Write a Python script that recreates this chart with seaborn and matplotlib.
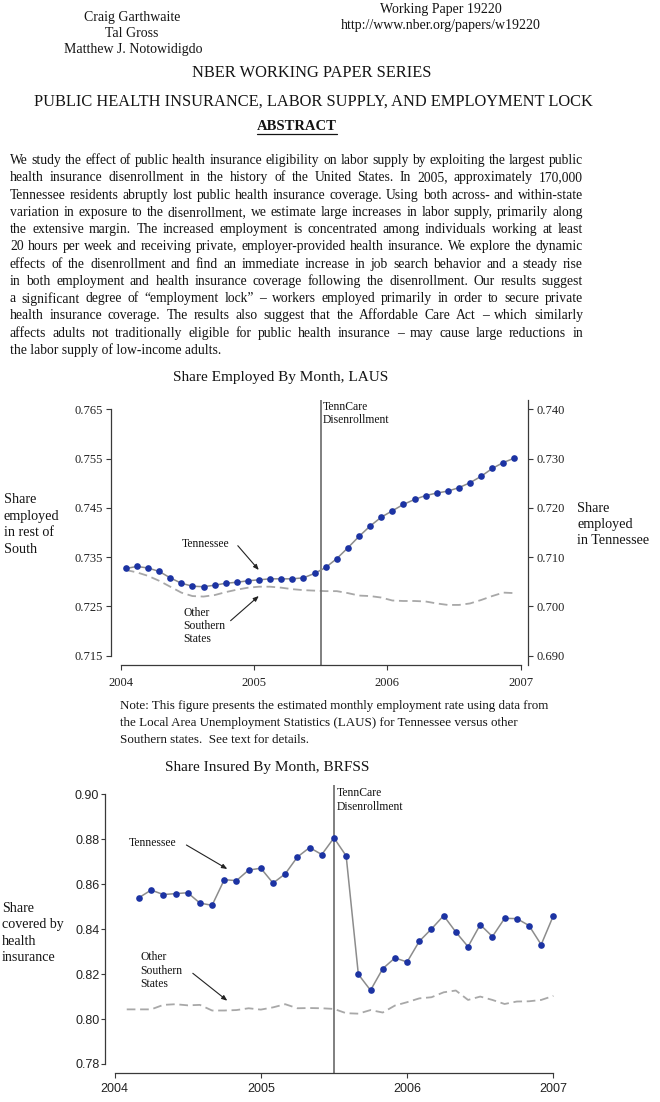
import numpy as np
import pandas as pd
import matplotlib
matplotlib.use("Agg")
import matplotlib.pyplot as plt
import seaborn as sns
from matplotlib.font_manager import FontProperties
from matplotlib.lines import Line2D

# ---------------- data ----------------
laus_month = list(range(36))  # Jan 2004 .. Dec 2006
laus_tennessee = [0.7077, 0.7081, 0.7078, 0.7071, 0.7058, 0.7047, 0.7041, 0.7040, 0.7043, 0.7047, 0.7049, 0.7052,
                  0.7054, 0.7056, 0.7056, 0.7056, 0.7058, 0.7067, 0.7079, 0.7097, 0.7119, 0.7142, 0.7163, 0.7181,
                  0.7194, 0.7207, 0.7217, 0.7225, 0.7230, 0.7234, 0.7241, 0.7251, 0.7264, 0.7280, 0.7292, 0.7301]
laus_south = [0.7324, 0.7319, 0.7312, 0.7302, 0.7290, 0.7278, 0.7271, 0.7270, 0.7273, 0.7279, 0.7284, 0.7288,
              0.7290, 0.7290, 0.7288, 0.7285, 0.7283, 0.7282, 0.7281, 0.7281, 0.7277, 0.7272, 0.7271, 0.7268,
              0.7262, 0.7261, 0.7261, 0.7260, 0.7256, 0.7253, 0.7253, 0.7256, 0.7263, 0.7271, 0.7278, 0.7277]

brfss_tn_month = list(range(2, 37))
brfss_tennessee = [0.8540, 0.8574, 0.8554, 0.8558, 0.8562, 0.8516, 0.8506, 0.8620, 0.8616, 0.8663, 0.8671,
                   0.8605, 0.8646, 0.8721, 0.8763, 0.8732, 0.8806, 0.8726, 0.8199, 0.8128, 0.8224, 0.8272,
                   0.8254, 0.8346, 0.8401, 0.8460, 0.8387, 0.8322, 0.8420, 0.8367, 0.8448, 0.8447, 0.8416,
                   0.8331, 0.8460]
brfss_south_month = list(range(1, 37))
brfss_south = [0.8043, 0.8043, 0.8043, 0.8063, 0.8066, 0.8061, 0.8063, 0.8038, 0.8038, 0.8040, 0.8048, 0.8042,
               0.8052, 0.8066, 0.8048, 0.8049, 0.8048, 0.8045, 0.8026, 0.8024, 0.8040, 0.8029, 0.8060, 0.8075,
               0.8092, 0.8097, 0.8119, 0.8127, 0.8085, 0.8100, 0.8085, 0.8067, 0.8078, 0.8079, 0.8085, 0.8103]

laus_left_ticks = [0.715, 0.725, 0.735, 0.745, 0.755, 0.765]
laus_right_ticks = [0.690, 0.700, 0.710, 0.720, 0.730, 0.740]
brfss_ticks = [0.78, 0.80, 0.82, 0.84, 0.86, 0.88, 0.90]
year_ticks = [2004, 2005, 2006, 2007]
disenrollment = 2005.5

abstract_lines = [
    "We study the effect of public health insurance eligibility on labor supply by exploiting the largest public",
    "health insurance disenrollment in the history of the United States. In 2005, approximately 170,000",
    "Tennessee residents abruptly lost public health insurance coverage. Using both across- and within-state",
    "variation in exposure to the disenrollment, we estimate large increases in labor supply, primarily along",
    "the extensive margin. The increased employment is concentrated among individuals working at least",
    "20 hours per week and receiving private, employer-provided health insurance. We explore the dynamic",
    "effects of the disenrollment and find an immediate increase in job search behavior and a steady rise",
    "in both employment and health insurance coverage following the disenrollment. Our results suggest",
    "a significant degree of \u201cemployment lock\u201d \u2013 workers employed primarily in order to secure private",
    "health insurance coverage.  The results also suggest that the Affordable Care Act \u2013 which similarly",
    "affects adults not traditionally eligible for public health insurance \u2013 may cause large reductions in",
    "the labor supply of low-income adults.",
]
note_lines = [
    "Note: This figure presents the estimated monthly employment rate using data from",
    "the Local Area Unemployment Statistics (LAUS) for Tennessee versus other",
    "Southern states.  See text for details.",
]

# ---------------- setup ----------------
W, H = 660, 1102
sns.set_theme(style="white")
plt.rcParams["font.family"] = ["Liberation Serif", "DejaVu Serif"]
SERIF = "Liberation Serif"
SANS = "Liberation Sans"
TXT = "#141414"
AX = "#3a3a3a"
BLUE = "#1c33a3"
LGRAY = "#a8a8a8"
MGRAY = "#8c8c8c"

fig = plt.figure(figsize=(W / 100, H / 100), dpi=100)
fig.patch.set_facecolor("white")
renderer = fig.canvas.get_renderer()


def fx(x):
    return x / W


def fy(y):
    return 1 - y / H


def ptext(x, y, s, size, ha="left", va="center", family=SERIF, color=TXT, **kw):
    return fig.text(fx(x), fy(y), s, fontsize=size, ha=ha, va=va, family=family, color=color, **kw)


def make_axes(left, top, right, bottom):
    return fig.add_axes([left / W, 1 - bottom / H, (right - left) / W, (bottom - top) / H])


def arrow(x1, y1, x2, y2):
    fig.add_artist(matplotlib.patches.FancyArrowPatch(
        (fx(x1), fy(y1)), (fx(x2), fy(y2)), transform=fig.transFigure,
        arrowstyle="-|>,head_length=3.2,head_width=1.3", color="#222222", lw=0.8,
        shrinkA=0, shrinkB=0))


# ---------------- header ----------------
ptext(132, 17.5, "Craig Garthwaite", 10, ha="center")
ptext(132, 33.5, "Tal Gross", 10, ha="center")
ptext(133, 50, "Matthew J. Notowidigdo", 10, ha="center")
ptext(441, 10, "Working Paper 19220", 10, ha="center")
ptext(441, 26, "http://www.nber.org/papers/w19220", 10, ha="center")
ptext(312, 73, "NBER WORKING PAPER SERIES", 11.8, ha="center")
ptext(313, 102, "PUBLIC HEALTH INSURANCE, LABOR SUPPLY, AND EMPLOYMENT LOCK", 11.8, ha="center")
fp_abs = FontProperties(family=SERIF, size=10.5, weight="bold")
t_abs = ptext(297, 126, "ABSTRACT", 10.5, ha="center", fontweight="bold")
aw = renderer.get_text_width_height_descent("ABSTRACT", fp_abs, ismath=False)[0]
fig.add_artist(Line2D([fx(297 - aw / 2), fx(297 + aw / 2)], [fy(133.5), fy(133.5)],
                      transform=fig.transFigure, color=TXT, lw=0.9))

# ---------------- abstract (justified) ----------------
fp_body = FontProperties(family=SERIF, size=9.8)
left_x, right_x = 10, 583
for i, line in enumerate(abstract_lines):
    y = 160.5 + i * 17.27
    if i == len(abstract_lines) - 1:
        ptext(left_x, y, line, 9.8)
        continue
    words = line.split()
    widths = [renderer.get_text_width_height_descent(w, fp_body, ismath=False)[0] for w in words]
    gap = (right_x - left_x - sum(widths)) / (len(words) - 1)
    x = left_x
    for w, wd in zip(words, widths):
        ptext(x, y, w, 9.8)
        x += wd + gap

# ---------------- chart 1: LAUS ----------------
ptext(281, 377, "Share Employed By Month, LAUS", 11, ha="center")
ax1 = make_axes(110.7, 400, 528, 665)
xl1 = (2003.924, 2007.056)
df_south1 = pd.DataFrame({"x": 2004 + (np.array(laus_month) + 0.45) / 12, "y": laus_south})
df_tn1 = pd.DataFrame({"x": 2004 + (np.array(laus_month) + 0.45) / 12, "y": laus_tennessee})
sns.lineplot(data=df_south1, x="x", y="y", ax=ax1, color=LGRAY, lw=1.3)
ax1.lines[-1].set_dashes([4.8, 2.6])
ax1.axvline(disenrollment, color="#6a6a6a", lw=1.2)
ax1.set_xlim(*xl1)
ax1.set_ylim(0.71311, 0.76689)
ax1r = ax1.twinx()
sns.lineplot(data=df_tn1, x="x", y="y", ax=ax1r, color=MGRAY, lw=1.1, marker="o", markersize=4.8,
             markerfacecolor=BLUE, markeredgecolor=BLUE, markeredgewidth=0)
ax1r.set_xlim(*xl1)
ax1r.set_ylim(0.68811, 0.74189)

for a in (ax1, ax1r):
    a.set_xlabel("")
    a.set_ylabel("")
    a.set_facecolor("none")
    for s in a.spines.values():
        s.set_color(AX)
        s.set_linewidth(0.9)
ax1.spines["top"].set_visible(False)
ax1.spines["right"].set_visible(False)
ax1.spines["left"].set_bounds(0.715, 0.765)
ax1.spines["bottom"].set_bounds(2004, 2007)
for s in ("left", "top", "bottom"):
    ax1r.spines[s].set_visible(False)
ax1.set_xticks(year_ticks)
ax1.set_xticklabels([str(v) for v in year_ticks])
ax1.set_yticks(laus_left_ticks)
ax1.set_yticklabels([f"{v:.3f}" for v in laus_left_ticks])
ax1r.set_yticks(laus_right_ticks)
ax1r.set_yticklabels([f"{v:.3f}" for v in laus_right_ticks])
ax1.tick_params(axis="x", bottom=True, direction="out", length=3.6, width=0.8, color=AX,
                labelsize=9, pad=5, labelcolor="#222")
ax1.tick_params(axis="y", left=True, direction="out", length=3.6, width=0.8, color=AX,
                labelsize=9, pad=2, labelcolor="#222")
ax1r.tick_params(axis="y", right=True, direction="out", length=3.6, width=0.8, color=AX,
                 labelsize=9, pad=2.5, labelcolor="#222")
for lab in ax1.get_xticklabels() + ax1.get_yticklabels() + ax1r.get_yticklabels():
    lab.set_family(SERIF)

for j, s in enumerate(["Share", "employed", "in rest of", "South"]):
    ptext(4, 500 + j * 16.4, s, 10.2)
for j, s in enumerate(["Share", "employed", "in Tennessee"]):
    ptext(577, 508 + j * 16.4, s, 10.2)
ptext(322.8, 406.7, "TennCare", 8.4)
ptext(322.8, 420, "Disenrollment", 8.4)
ptext(182, 544.3, "Tennessee", 8.4)
arrow(237.8, 545.7, 258.8, 570)
for j, s in enumerate(["Other", "Southern", "States"]):
    ptext(183, 612.7 + j * 13.3, s, 8.4)
arrow(230.6, 620.7, 258.8, 596)

for j, s in enumerate(note_lines):
    ptext(120, 706 + j * 17, s, 9.4)

# ---------------- chart 2: BRFSS ----------------
ptext(267.5, 767, "Share Insured By Month, BRFSS", 11, ha="center")
ax2 = make_axes(105.2, 785, 556, 1073.3)
xl2 = (2003.936, 2007.018)
df_south2 = pd.DataFrame({"x": 2004 + np.array(brfss_south_month) / 12, "y": brfss_south})
df_tn2 = pd.DataFrame({"x": 2004 + np.array(brfss_tn_month) / 12, "y": brfss_tennessee})
sns.lineplot(data=df_south2, x="x", y="y", ax=ax2, color=LGRAY, lw=1.3)
ax2.lines[-1].set_dashes([4.8, 2.6])
ax2.axvline(disenrollment, color="#6a6a6a", lw=1.2)
sns.lineplot(data=df_tn2, x="x", y="y", ax=ax2, color=MGRAY, lw=1.1, marker="o", markersize=4.8,
             markerfacecolor=BLUE, markeredgecolor=BLUE, markeredgewidth=0)
ax2.set_xlim(*xl2)
ax2.set_ylim(0.77586, 0.90414)
ax2.set_xlabel("")
ax2.set_ylabel("")
for s in ax2.spines.values():
    s.set_color(AX)
    s.set_linewidth(0.9)
ax2.spines["top"].set_visible(False)
ax2.spines["right"].set_visible(False)
ax2.spines["left"].set_bounds(0.78, 0.90)
ax2.spines["bottom"].set_bounds(2004, 2007)
ax2.set_xticks(year_ticks)
ax2.set_xticklabels([str(v) for v in year_ticks])
ax2.set_yticks(brfss_ticks)
ax2.set_yticklabels([f"{v:.2f}" for v in brfss_ticks])
ax2.tick_params(axis="x", bottom=True, direction="out", length=3.6, width=0.8, color=AX,
                labelsize=9, pad=3.5, labelcolor="#222")
ax2.tick_params(axis="y", left=True, direction="out", length=3, width=0.8, color=AX,
                labelsize=9, pad=1.2, labelcolor="#222")
for lab in ax2.get_xticklabels() + ax2.get_yticklabels():
    lab.set_family(SANS)

for j, s in enumerate(["Share", "covered by", "health", "insurance"]):
    ptext(2, 908.3 + j * 16.4, s, 10.1)
ptext(336.7, 793.3, "TennCare", 8.4)
ptext(336.7, 806.7, "Disenrollment", 8.4)
ptext(128.4, 843.3, "Tennessee", 8.4)
arrow(186.4, 845, 227.3, 869)
for j, s in enumerate(["Other", "Southern", "States"]):
    ptext(140.2, 957.3 + j * 13.3, s, 8.4)
arrow(192.8, 973.3, 227.3, 1000.7)

fig.savefig("out.png", dpi=100, facecolor="white")
